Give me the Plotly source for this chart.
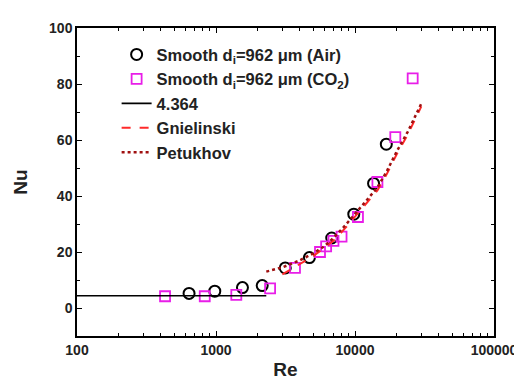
import plotly.graph_objects as go

# Data
air_re = [640, 980, 1550, 2150, 3150, 4700, 6800, 9800, 13600, 16800]
air_nu = [5.2, 6.0, 7.3, 8.0, 14.3, 18.0, 25.0, 33.5, 44.5, 58.5]

co2_re = [430, 830, 1400, 2450, 3700, 5600, 6200, 7000, 8000, 10500, 14500, 19500, 26000]
co2_nu = [4.2, 4.2, 4.7, 7.0, 14.3, 20.0, 22.0, 24.0, 25.5, 32.5, 45.0, 61.0, 82.0]

lam_re = [100, 2300]
lam_nu = [4.364, 4.364]

gn_re = [3000, 4000, 5000, 6000, 7000, 8500, 10000, 12000, 14500, 17000, 20000, 24000, 28000, 30000]
gn_nu = [12.0, 15.5, 18.5, 21.5, 24.0, 28.5, 32.5, 37.0, 42.0, 48.0, 55.0, 62.0, 69.0, 72.0]

pt_re = [2300, 3000, 4000, 5000, 6000, 7000, 8500, 10000, 12000, 14500, 17000, 20000, 24000, 28000, 30000]
pt_nu = [13.0, 14.5, 17.0, 19.5, 22.0, 25.0, 29.5, 33.5, 38.0, 43.0, 49.0, 56.0, 63.0, 70.0, 73.0]

FONT = "Liberation Sans"

fig = go.Figure()
fig.add_trace(go.Scatter(x=air_re, y=air_nu, mode="markers",
                         name="Smooth d<sub>i</sub>=962 μm (Air)",
                         marker=dict(symbol="circle-open", size=11, color="black",
                                     line=dict(width=2, color="black"))))
fig.add_trace(go.Scatter(x=co2_re, y=co2_nu, mode="markers",
                         name="Smooth d<sub>i</sub>=962 μm (CO<sub>2</sub>)",
                         marker=dict(symbol="square-open", size=10, color="#e81ee8",
                                     line=dict(width=1.8, color="#e81ee8"))))
fig.add_trace(go.Scatter(x=lam_re, y=lam_nu, mode="lines", name="4.364",
                         line=dict(color="black", width=1.6)))
fig.add_trace(go.Scatter(x=gn_re, y=gn_nu, mode="lines", name="Gnielinski",
                         line=dict(color="#ff2a2a", width=2, dash="dash")))
fig.add_trace(go.Scatter(x=pt_re, y=pt_nu, mode="lines", name="Petukhov",
                         line=dict(color="#a01010", width=2.5, dash="dot")))

axis_common = dict(showline=True, linecolor="black", linewidth=1.5, mirror="allticks",
                   ticks="inside", ticklen=5, tickwidth=1.2, tickcolor="black",
                   showgrid=False, zeroline=False,
                   tickfont=dict(family=FONT, size=14, color="#222", weight="bold"))

fig.update_xaxes(type="log", range=[2, 5], tickvals=[100, 1000, 10000, 100000],
                 ticktext=["100", "1000", "10000", "100000"],
                 minor=dict(ticks="inside", ticklen=3, dtick="D1", tickcolor="black", showgrid=False),
                 title=dict(text="Re", font=dict(family=FONT, size=19, color="#222", weight="bold"), standoff=6),
                 **axis_common)
fig.update_yaxes(range=[-10, 100], tickvals=[0, 20, 40, 60, 80, 100],
                 minor=dict(ticks="inside", ticklen=3, dtick=10, tickcolor="black", showgrid=False),
                 title=dict(text="Nu", font=dict(family=FONT, size=19, color="#222", weight="bold"), standoff=16),
                 **axis_common)

fig.update_layout(width=522, height=381,
                  margin=dict(l=69, r=30, t=16, b=49),
                  paper_bgcolor="white", plot_bgcolor="white",
                  font=dict(family=FONT, size=14, color="#222"),
                  legend=dict(x=0.095, y=0.97, xanchor="left", yanchor="top",
                              bgcolor="rgba(0,0,0,0)", tracegroupgap=0,
                              font=dict(family=FONT, size=16.5, color="#222", weight="bold")),
                  showlegend=True)

fig.write_html("out.html")
